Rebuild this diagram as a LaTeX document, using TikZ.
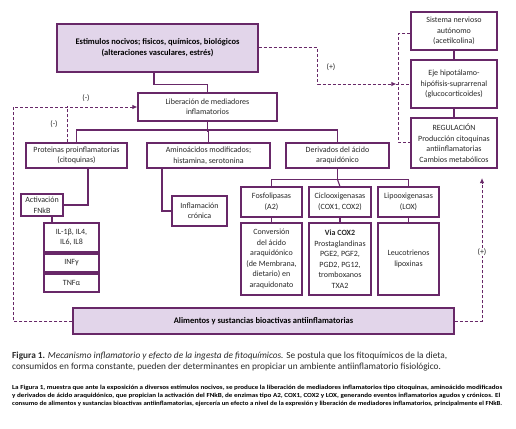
\documentclass[tikz,border=0pt]{standalone}
\usepackage{fontspec}
\setmainfont{Carlito}
\usetikzlibrary{arrows.meta}
\definecolor{pur}{RGB}{104,40,104}
\definecolor{lav}{RGB}{226,213,234}
\definecolor{txt}{RGB}{40,40,40}
\begin{document}
\begin{tikzpicture}[x=1pt,y=-1pt,
  bx/.style={draw=pur,line width=1.1pt,fill=white,inner sep=0pt,align=center,
    text=txt,font=\fontsize{8}{10.5}\selectfont},
  hl/.style={bx,fill=lav,font=\bfseries\fontsize{8.5}{11}\selectfont,text=black},
  ln/.style={draw=pur,line width=1.1pt},
  dsh/.style={draw=pur,line width=1pt,dash pattern=on 3pt off 2pt},
  tip/.style={-{Latex[length=5pt,width=4.5pt]}},
  lbl/.style={font=\fontsize{8}{10}\selectfont,text=txt,inner sep=1pt},
  par/.style={anchor=base west,inner sep=0pt,font=\bfseries\fontsize{6.2}{7}\selectfont}]
\useasboundingbox (0,0) rectangle (516,428);
% boxes
\node[hl,minimum width=201,minimum height=48] (est) at (157.5,48) {Estimulos nocivos; fisicos, químicos, biológicos\\(alteraciones vasculares, estrés)};
\node[bx,minimum width=139,minimum height=28] (lib) at (207.5,107) {Liberación de mediadores\\inflamatorios};
\node[bx,minimum width=101,minimum height=25] (prot) at (76.5,155.5) {Proteinas proinflamatorias\\(citoquinas)};
\node[bx,minimum width=123,minimum height=25] (amino) at (208.5,155.5) {Aminoácidos modificados;\\histamina, serotonina};
\node[bx,minimum width=103,minimum height=25] (deriv) at (337.5,155.5) {Derivados del ácido\\araquidónico};
\node[bx,minimum width=42,minimum height=22] (fnkb) at (42,205) {Activación\\FNkB};
\node[bx,minimum width=55,minimum height=29] (il) at (71.5,237.5) {IL-1β, IL4,\\IL6, IL8};
\node[bx,minimum width=55,minimum height=18] (infy) at (71.5,263) {INFγ};
\node[bx,minimum width=55,minimum height=18] (tnf) at (71.5,283) {TNFα};
\node[bx,minimum width=55,minimum height=30] (infl) at (199.5,211) {Inflamación\\crónica};
\node[bx,minimum width=61,minimum height=30] (fosfo) at (271.5,202) {Fosfolipasas\\(A2)};
\node[bx,minimum width=62,minimum height=30] (ciclo) at (340,202) {Ciclooxigenasas\\(COX1, COX2)};
\node[bx,minimum width=61,minimum height=30] (lipo) at (408.5,202) {Lipooxigenasas\\(LOX)};
\node[bx,minimum width=61,minimum height=72] (conv) at (271.5,259) {Conversión\\del ácido\\araquidónico\\(de Membrana,\\dietario) en\\araquidonato};
\node[bx,minimum width=62,minimum height=72] (via) at (340,259) {\textbf{Via COX2}\\Prostaglandinas\\PGE2, PGF2,\\PGD2, PG12,\\tromboxanos\\TXA2};
\node[bx,minimum width=61,minimum height=72] (leuco) at (408.5,259) {Leucotrienos\\lipoxinas};
\node[bx,minimum width=86,minimum height=38] (sist) at (454,31) {Sistema nervioso\\autónomo\\(acetilcolina)};
\node[bx,minimum width=86,minimum height=48] (eje) at (454,84) {Eje hipotálamo-\\hipófisis-suprarrenal\\(glucocorticoides)};
\node[bx,minimum width=86,minimum height=50] (reg) at (454,143) {REGULACIÓN\\Producción citoquinas\\antiinflamatorias\\Cambios metabólicos};
\node[hl,minimum width=381,minimum height=26] (alim) at (263.5,321) {Alimentos y sustancias bioactivas antiinflamatorias};
% solid connectors
\draw[ln] ([xshift=-3.5]est.south) -- ++(0,12) -| (lib.north);
\draw[ln] (lib.south) -- ++(0,10.5);
\draw[ln] (prot.north) -- ++(0,-12.5) -| (deriv.north);
\draw[ln] (amino.north) -- ++(0,-12.5);
\draw[ln] ([xshift=11.5]prot.south) |- (fnkb.east);
\coordinate (v) at ([xshift=10]fnkb.south);
\draw[ln] (v) -- (v |- il.north);
\draw[ln] (v |- il.south) -- (v |- infy.north);
\draw[ln] (v |- infy.south) -- (v |- tnf.north);
\draw[ln] ([xshift=-46.5]amino.south) |- (infl.west);
\draw[ln] (deriv.south) -- ++(0,11) coordinate (b2);
\draw[ln] (fosfo.north) |- (b2) -| (lipo.north);
\draw[ln] (ciclo.north) -- (b2);
\draw[ln] (fosfo.south) -- (conv.north);
\draw[ln] (ciclo.south) -- (via.north);
\draw[ln] (lipo.south) -- (leuco.north);
\draw[ln] (sist.south) -- (eje.north);
\draw[ln] (eje.south) -- (reg.north);
% dashed connectors
\draw[dsh,tip] (est.east) -- ++(59,0) |- ([xshift=-14]eje.west);
\draw[dsh] ([xshift=-14]eje.west) -- (eje.west);
\draw[dsh] ([yshift=-3]sist.west) -- ++(-12,0) |- ([yshift=1]reg.west);
\draw[dsh,tip] (alim.west) -| ([xshift=-124]lib.west) -- (lib.west);
\draw[dsh] ([xshift=-9.5]prot.north) -- ++(0,-36);
\coordinate (rtip) at (482,178);
\draw[dsh,tip] (alim.east) -| (rtip);
% labels
\node[lbl] (p1) at (331,67) {(+)};
\node[lbl] (m1) at (86,98) {(-)};
\node[lbl] (m2) at (54,124) {(-)};
\node[lbl,fill=white] (p2) at (482,252) {(+)};
% caption
\node[anchor=base west,inner sep=0pt,font=\fontsize{9.3}{11}\selectfont,text=txt] (cap1) at (12,358)
 {\textbf{Figura 1.} \textit{Mecanismo inflamatorio y efecto de la ingesta de fitoquímicos.} Se postula que los fitoquímicos de la dieta,};
\node[anchor=base west,inner sep=0pt,font=\fontsize{9.3}{11}\selectfont,text=txt] (cap2) at (12,369.5)
 {consumidos en forma constante, pueden der determinantes en propiciar un ambiente antiinflamatorio fisiológico.};
\node[par] (par1) at (12,389)
 {\resizebox{490pt}{\height}{La Figura 1, muestra que ante la exposición a diversos estímulos nocivos, se produce la liberación de mediadores inflamatorios tipo citoquinas, aminoácido modificados}};
\node[par] (par2) at (12,397)
 {\resizebox{488pt}{\height}{y derivados de ácido araquidónico, que propician la activación del FNkB, de enzimas tipo A2, COX1, COX2 y LOX, generando eventos inflamatorios agudos y crónicos. El}};
\node[par] (par3) at (12,405)
 {\resizebox{490pt}{\height}{consumo de alimentos y sustancias bioactivas antiinflamatorias, ejercería un efecto a nivel de la expresión y liberación de mediadores inflamatorios, principalmente el FNkB.}};
\end{tikzpicture}
\end{document}
